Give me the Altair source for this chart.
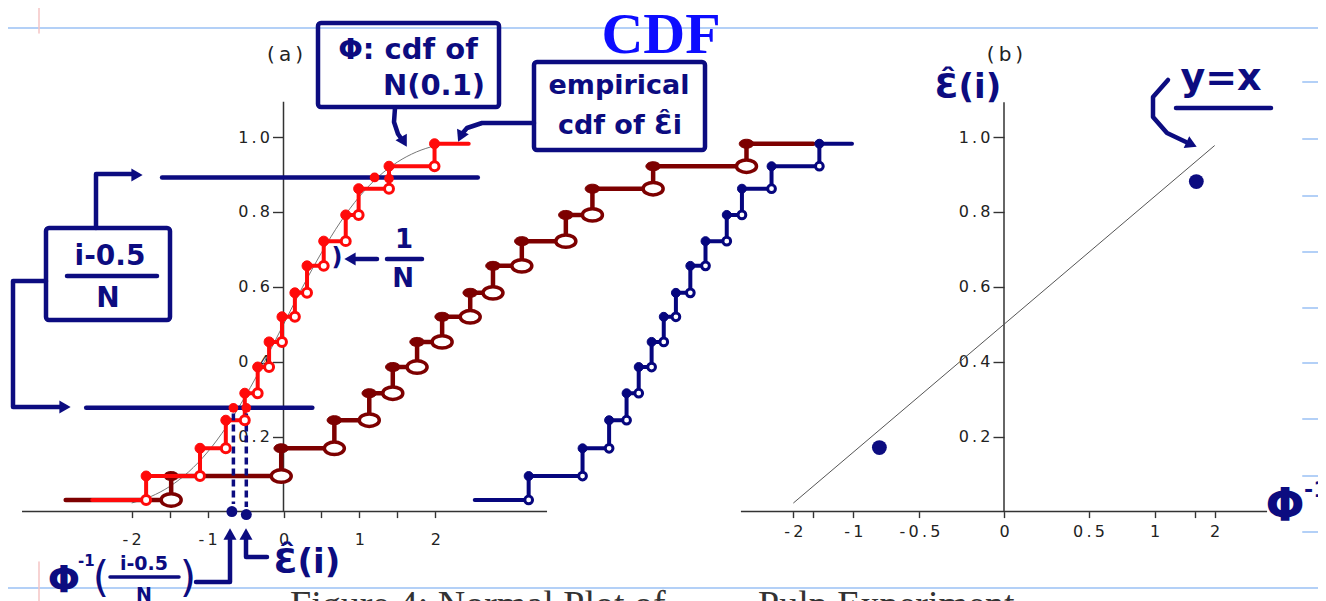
import math
import altair as alt
import pandas as pd

# ---------------- values ----------------
# step heights shared by the three empirical cdf's (15 levels)
LEVELS = [0.031, 0.095, 0.169, 0.244, 0.316, 0.386, 0.453, 0.520,
          0.584, 0.656, 0.722, 0.792, 0.862, 0.922, 0.982]

# x positions of the jumps of each step function, and the left/right ends
RED_JUMPS = [-1.81, -1.10, -0.76, -0.51, -0.34, -0.19, -0.02, 0.15,
             0.31, 0.53, 0.82, 0.99, 1.39, 1.99]
RED_RANGE = [-2.52, 2.44]

DARK_JUMPS = [-1.48, -0.03, 0.67, 1.13, 1.44, 1.76, 2.09, 2.46,
              2.76, 3.14, 3.72, 4.07, 4.87, 6.10]
DARK_RANGE = [-2.87, 6.98]

BLUE_JUMPS = [3.23, 3.94, 4.29, 4.52, 4.68, 4.85, 5.01, 5.17,
              5.36, 5.56, 5.84, 6.04, 6.43, 7.06]
BLUE_RANGE = [2.52, 7.49]

# thin grey N(0,1) cdf curve
CURVE_X = [-2.0, -1.75, -1.5, -1.25, -1.0, -0.75, -0.5, -0.25, 0.0,
           0.25, 0.5, 0.75, 1.0, 1.25, 1.5, 1.75, 2.0]
CURVE_Y = [0.023, 0.040, 0.067, 0.106, 0.159, 0.227, 0.309, 0.401, 0.500,
           0.599, 0.691, 0.773, 0.841, 0.894, 0.933, 0.960, 0.977]

# hand-drawn guides in panel (a)
GUIDE_LEVELS = [0.277, 0.892]
GUIDE_X = [[-2.60, 0.38], [-1.60, 2.56]]
HILITE_X = [-0.66, -0.49, 1.20, 1.39]
HILITE_Y = [0.277, 0.277, 0.892, 0.889]
AXIS_DOTS_X = [-0.68, -0.49]

# axes
A_XTICKS = [-2, -1.5, -1, -0.5, 0, 0.5, 1, 1.5, 2]
Y_TICKS = [0.2, 0.4, 0.6, 0.8, 1.0]
B_QTICKS = [-2, -1.5, -1, -0.5, 0, 0.5, 1, 1.5, 2]
AXA_X = [-3.445, 3.472]
AXA_YTOP = 1.094
AXB_X = [-0.096, 1.096]
AXB_YTOP = 1.093

# panel (b): y = x reference line (quantile ends) and the two points
REF_Q = [-2, 2]
DOT_Q = [-0.78, 1.52]
DOT_Y = [0.171, 0.881]

# ---------------- layout ----------------
W, H = 1310, 593
M = 8
Y0_PX, Y_PPU = 511.6 - M, 374.6
XA0_PX, XA_PPU = 283.5 - M, 75.9
XB0_PX, XB_PPU = 1004 - M, 441.4

y_dom = [-(H - Y0_PX) / Y_PPU, Y0_PX / Y_PPU]
xa_dom = [-XA0_PX / XA_PPU, (W - XA0_PX) / XA_PPU]
xb_dom = [0.5 - XB0_PX / XB_PPU, 0.5 + (W - XB0_PX) / XB_PPU]

sy = alt.Scale(domain=y_dom, nice=False, zero=False)
sxa = alt.Scale(domain=xa_dom, nice=False, zero=False)
sxb = alt.Scale(domain=xb_dom, nice=False, zero=False)

NAVY = "#0c0c80"
RED = "#ff0a0a"
DARK = "#7d0000"
BLUE = "#06067e"
AXC = "#333333"
HAND = "DejaVu Sans"
TS = "\u2009"


def phi(q):
    return 0.5 * (1 + math.erf(q / math.sqrt(2)))


def spaced(e):
    return f"join(split({e}, ''), '{TS}')"


ax_common = dict(domain=False, grid=False, tickColor=AXC, tickWidth=1.4,
                 labelFont="DejaVu Sans", labelFontSize=16, labelColor="#222",
                 title=None, labelFlush=False, labelOverlap=False, labelBound=False)

axA_x = alt.Axis(values=A_XTICKS, orient="bottom", offset=-(H - Y0_PX), tickSize=6,
                 labelPadding=14,
                 labelExpr=f"datum.value % 1 == 0 ? {spaced('toString(datum.value)')} : ''",
                 **ax_common)
axA_y = alt.Axis(values=Y_TICKS, orient="left", offset=-XA0_PX, tickSize=11, labelPadding=3,
                 labelExpr=spaced("format(datum.value, '.1f')"), **ax_common)
qexpr = "round(quantileNormal(datum.value)*10)/10"
axB_x = alt.Axis(values=[phi(q) for q in B_QTICKS], orient="bottom", offset=-(H - Y0_PX),
                 tickSize=6, labelPadding=6,
                 labelExpr=f"abs(abs({qexpr}) - 1.5) < 0.01 ? '' : {spaced('toString(' + qexpr + ')')}",
                 **ax_common)
axB_y = alt.Axis(values=Y_TICKS, orient="left", offset=-XB0_PX, tickSize=11, labelPadding=3,
                 labelExpr=spaced("format(datum.value, '.1f')"), **ax_common)


def XA(f):
    return alt.X(f, type="quantitative", scale=sxa, axis=axA_x)


def YA(f):
    return alt.Y(f, type="quantitative", scale=sy, axis=axA_y)


def XB(f):
    return alt.X(f, type="quantitative", scale=sxb, axis=axB_x)


def YB(f):
    return alt.Y(f, type="quantitative", scale=sy, axis=axB_y)


ELL = "M-1,0A1,0.62,0,1,1,1,0A1,0.62,0,1,1,-1,0Z"


def series(jumps, rng, color, lw, fshape, fsize, oshape, osize, ow):
    xs = [rng[0]] + list(jumps) + [rng[1]]
    h = pd.DataFrame({"x": xs[:-1], "x2": xs[1:], "y": LEVELS, "y2": LEVELS})
    v = pd.DataFrame({"x": jumps, "x2": jumps, "y": LEVELS[:-1], "y2": LEVELS[1:]})
    segs = pd.concat([h, v], ignore_index=True)
    filled = pd.DataFrame({"x": jumps, "y": LEVELS[1:]})
    hollow = pd.DataFrame({"x": jumps, "y": LEVELS[:-1]})
    lines = alt.Chart(segs).mark_rule(color=color, strokeWidth=lw, strokeCap="round").encode(
        x=XA("x"), x2="x2", y=YA("y"), y2="y2")
    dots = alt.Chart(filled).mark_point(shape=fshape, size=fsize, filled=True, fill=color,
                                        stroke=color, strokeWidth=1, opacity=1).encode(
        x=XA("x"), y=YA("y"))
    rings = alt.Chart(hollow).mark_point(shape=oshape, size=osize, filled=True, fill="white",
                                         fillOpacity=1, stroke=color, strokeWidth=ow,
                                         opacity=1).encode(x=XA("x"), y=YA("y"))
    return lines, dots, rings


# ---------------- panel (a) ----------------
axlines_a = pd.DataFrame({"x": [AXA_X[0], 0], "x2": [AXA_X[1], 0],
                          "y": [0, 0], "y2": [0, AXA_YTOP]})
a_axis = alt.Chart(axlines_a).mark_rule(color=AXC, strokeWidth=1.5).encode(
    x=XA("x"), x2="x2", y=YA("y"), y2="y2")
curve = alt.Chart(pd.DataFrame({"x": CURVE_X, "y": CURVE_Y})).mark_line(
    color="#777", strokeWidth=1, interpolate="monotone").encode(x=XA("x"), y=YA("y"))

d_lines, d_dots, d_rings = series(DARK_JUMPS, DARK_RANGE, DARK, 4.5, ELL, 210, ELL, 400, 3.5)
b_lines, b_dots, b_rings = series(BLUE_JUMPS, BLUE_RANGE, BLUE, 4, "circle", 80, "circle", 60, 3)
r_lines, r_dots, r_rings = series(RED_JUMPS, RED_RANGE, RED, 4, "circle", 100, "circle", 80, 3)

guides = alt.Chart(pd.DataFrame({"x": [g[0] for g in GUIDE_X], "x2": [g[1] for g in GUIDE_X],
                                 "y": GUIDE_LEVELS})).mark_rule(
    color=NAVY, strokeWidth=4.5, strokeCap="round").encode(x=XA("x"), x2="x2", y=YA("y"), y2="y")
dashes = alt.Chart(pd.DataFrame({"x": HILITE_X[:2], "y": [0.262, 0.262], "y2": [0.02, 0.012]})).mark_rule(
    color=NAVY, strokeWidth=3.5, strokeDash=[7, 4]).encode(x=XA("x"), y=YA("y"), y2="y2")
axis_dots = alt.Chart(pd.DataFrame({"x": AXIS_DOTS_X, "y": [0.0, -0.008]})).mark_point(
    shape="circle", filled=True, color=NAVY, size=120, opacity=1).encode(x=XA("x"), y=YA("y"))
hilite = alt.Chart(pd.DataFrame({"x": HILITE_X, "y": HILITE_Y})).mark_point(
    shape="circle", filled=True, color=RED, size=95, opacity=1).encode(x=XA("x"), y=YA("y"))

panelA = alt.layer(curve, a_axis, d_lines, b_lines, d_rings, d_dots, b_rings, b_dots,
                   r_lines, guides, dashes, r_rings, r_dots, hilite, axis_dots)

# ---------------- panel (b) ----------------
axlines_b = pd.DataFrame({"x": [AXB_X[0], 0.5], "x2": [AXB_X[1], 0.5],
                          "y": [0, 0], "y2": [0, AXB_YTOP]})
b_axis = alt.Chart(axlines_b).mark_rule(color=AXC, strokeWidth=1.5).encode(
    x=XB("x"), x2="x2", y=YB("y"), y2="y2")
ref = alt.Chart(pd.DataFrame({"q": REF_Q})).transform_calculate(
    p="cumulativeNormal(datum.q)").mark_line(color="#555", strokeWidth=1).encode(
    x=XB("p"), y=YB("p"))
bdots = alt.Chart(pd.DataFrame({"q": DOT_Q, "y": DOT_Y})).transform_calculate(
    p="cumulativeNormal(datum.q)").mark_point(shape="circle", filled=True, color=NAVY,
                                               size=220, opacity=1).encode(x=XB("p"), y=YB("y"))
panelB = alt.layer(b_axis, ref, bdots)


# ---------------- annotations (page pixel positions) ----------------
def P(v):
    return v - M


def poly(points, color=NAVY, width=4.5, dash=None):
    df = pd.DataFrame({"px": [P(p[0]) for p in points], "py": [P(p[1]) for p in points],
                       "i": list(range(len(points)))})
    kw = dict(color=color, strokeWidth=width, strokeCap="round", strokeJoin="round")
    if dash:
        kw["strokeDash"] = dash
    return alt.Chart(df).mark_line(**kw).encode(
        x=alt.X("px:Q", scale=None, axis=None), y=alt.Y("py:Q", scale=None, axis=None),
        order="i:Q")


def txt(s, x, y, size, color=NAVY, font=HAND, weight="bold", align="center",
        baseline="middle"):
    return alt.Chart(pd.DataFrame({"t": [s]})).mark_text(
        font=font, fontSize=size, fontWeight=weight, color=color, align=align,
        baseline=baseline).encode(x=alt.value(P(x)), y=alt.value(P(y)), text="t:N")


def box(x1, y1, x2, y2):
    return alt.Chart(pd.DataFrame({"a": [0]})).mark_rect(
        fillOpacity=0, stroke=NAVY, strokeWidth=4.5, cornerRadius=3).encode(
        x=alt.value(P(x1)), x2=alt.value(P(x2)), y=alt.value(P(y1)), y2=alt.value(P(y2)))


def head(tx, ty, angle, size=170):
    a = math.radians(angle)
    cx, cy = tx - 6 * math.sin(a), ty + 6 * math.cos(a)
    return alt.Chart(pd.DataFrame({"a": [0]})).mark_point(
        shape="triangle-up", filled=True, color=NAVY, size=size, angle=angle,
        opacity=1).encode(x=alt.value(P(cx)), y=alt.value(P(cy)))


LIGHT = "#b3d0f7"
PINK = "#f5c4c4"
paper = [poly([(0, 28), (1330, 28)], LIGHT, 2), poly([(0, 588), (1330, 588)], LIGHT, 2)]
for yy in [82, 139, 196, 252, 308, 363, 419, 476, 532]:
    paper.append(poly([(1303, yy), (1330, yy)], LIGHT, 2))
paper += [poly([(39, 0), (39, 33)], PINK, 1.5), poly([(39, 562), (39, 605)], PINK, 1.5)]
paper_layer = alt.layer(*paper)

EPS = "\u0190\u0302"
PHI = "\u03a6"
ann = []
ann += [txt("CDF", 661, 53, 58, color="#0d0dff", font="Liberation Serif", baseline="alphabetic")]
ann += [txt(f"({TS}a{TS})", 285, 55, 20, color="#222", weight="normal"),
        txt(f"({TS}b{TS})", 1005, 55, 20, color="#222", weight="normal")]
ann += [box(318, 23, 499, 107), box(534, 62, 705, 150), box(46, 228, 170, 320)]
ann += [txt(f"{PHI}: cdf of", 408, 50, 29), txt("N(0.1)", 434, 86, 29)]
ann += [txt("empirical", 619, 86, 27), txt(f"cdf of {EPS}i", 620, 126, 27)]
ann += [txt("i-0.5", 110, 257, 28), poly([(67, 276), (157, 276)]), txt("N", 108, 299, 28)]
ann += [poly([(395, 108), (394, 122), (398, 134), (403, 141)]), head(407, 147, 150)]
ann += [poly([(534, 123), (482, 123), (467, 128), (461, 135)]), head(458, 142, 205)]
ann += [poly([(96, 228), (96, 174), (134, 174)]), head(143, 175, 90)]
ann += [poly([(46, 281), (13, 281), (13, 407), (62, 407)]), head(71, 407, 90)]
ann += [txt("1", 404, 240, 26), poly([(387, 259), (422, 259)]), txt("N", 403, 279, 26)]
ann += [poly([(377, 259), (352, 259)]), head(344, 259, 270), txt(")", 337, 258, 24)]
# bottom-left label
ann += [txt(PHI, 64, 581, 38), txt("-1", 78, 561, 15, align="left"),
        txt("(", 101, 579, 42, weight="normal"), txt("i-0.5", 144, 564, 19),
        poly([(110, 577), (179, 577)], width=3.5), txt("N", 144, 595, 19),
        txt(")", 188, 579, 42, weight="normal")]
ann += [poly([(196, 582), (230, 582), (230, 537)]), head(230, 528, 0)]
ann += [poly([(246, 537), (246, 557), (267, 557)]), head(246, 528, 0)]
ann += [txt(f"{EPS}(i)", 307, 563, 34)]
# panel (b) labels
ann += [txt(f"{EPS}(i)", 968, 88, 34), txt("y=x", 1221, 79, 38),
        poly([(1176, 108), (1271, 108)])]
ann += [poly([(1168, 80), (1153, 97), (1153, 117), (1167, 133), (1186, 142)]),
        head(1197, 147, 115)]
ann += [txt(PHI, 1285, 507, 46), txt("-1", 1304, 490, 22, align="left")]
# caption (cut by the bottom edge)
ann += [txt("Figure 4: Normal Plot of", 290, 617, 38, color="#333", font="Liberation Serif",
            weight="normal", align="left", baseline="alphabetic"),
        txt("Pulp Experiment", 758, 617, 38, color="#333", font="Liberation Serif",
            weight="normal", align="left", baseline="alphabetic")]
ann_layer = alt.layer(*ann)

chart = alt.layer(paper_layer, panelA, panelB, ann_layer).resolve_scale(
    x="independent", y="independent").resolve_axis(x="independent", y="independent").properties(
    width=W, height=H, padding=0, background="white",
    autosize=alt.AutoSizeParams(type="none")).configure_view(stroke=None)

chart.save("out.html", embed_options={"renderer": "svg", "actions": False})
